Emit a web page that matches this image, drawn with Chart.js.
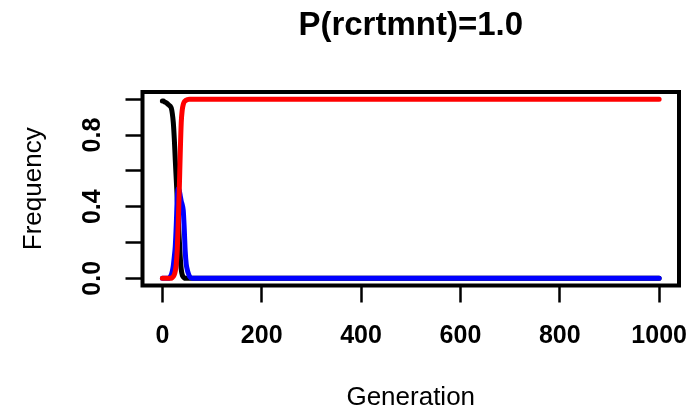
<!DOCTYPE html>
<html>
<head>
<meta charset="utf-8">
<title>P(rcrtmnt)=1.0</title>
<script src="https://cdn.jsdelivr.net/npm/chart.js@4/dist/chart.umd.min.js"></script>
<style>
  html, body { margin: 0; padding: 0; background: #ffffff; overflow: hidden; }
  canvas { display: block; }
</style>
</head>
<body>
<canvas id="chart" width="693" height="412"></canvas>
<script>
// Generations sampled for the three frequency trajectories
const generations = [0, 2, 4, 6, 8, 10, 12, 14, 16, 18, 20, 22, 24, 26, 28, 30, 32, 34, 36, 38, 40, 42, 44, 46, 48, 50, 52, 55, 60, 1000];

const freqBlack = [0.99, 0.99, 0.985, 0.983, 0.98, 0.975, 0.97, 0.965, 0.96, 0.95, 0.92, 0.87, 0.78, 0.66, 0.55, 0.44, 0.33, 0.22, 0.12, 0.05, 0.02, 0.008, 0.003, 0, 0, 0, 0, 0, 0, 0];
const freqBlue  = [0, 0, 0, 0, 0, 0, 0, 0.003, 0.01, 0.02, 0.04, 0.07, 0.12, 0.18, 0.30, 0.45, 0.50, 0.49, 0.46, 0.43, 0.41, 0.38, 0.28, 0.15, 0.08, 0.05, 0.03, 0.01, 0, 0];
const freqRed   = [0, 0, 0, 0, 0, 0, 0, 0, 0, 0, 0.005, 0.01, 0.02, 0.04, 0.08, 0.16, 0.31, 0.49, 0.70, 0.87, 0.94, 0.97, 0.985, 0.99, 0.995, 0.997, 0.999, 1.0, 1.0, 1.0];

const xTicks = [0, 200, 400, 600, 800, 1000];
const yTicks = [0, 0.2, 0.4, 0.6, 0.8, 1.0];
const yLabelled = [0, 0.4, 0.8];

const mainTitle = 'P(rcrtmnt)=1.0';

const FONT = "'Liberation Sans', Arial, Helvetica, sans-serif";

const toPoints = ys => generations.map((g, i) => ({ x: g, y: ys[i] }));

// Heavy frame round the plotting region, and the main title centred over it
const frameAndTitle = {
  id: 'frameAndTitle',
  afterDatasetsDraw(chart) {
    const { ctx, chartArea: a } = chart;
    ctx.save();
    ctx.strokeStyle = '#000000';
    ctx.lineWidth = 4;
    ctx.strokeRect(a.left, a.top, a.right - a.left, a.bottom - a.top);
    ctx.fillStyle = '#000000';
    ctx.font = 'bold 33px ' + FONT;
    ctx.textAlign = 'center';
    ctx.textBaseline = 'middle';
    ctx.fillText(mainTitle, (a.left + a.right) / 2, 26);
    ctx.restore();
  }
};

const axisGrid = {
  display: true,
  drawOnChartArea: false,
  drawTicks: true,
  tickLength: 17,
  tickWidth: 2.5,
  tickColor: '#000000'
};

new Chart(document.getElementById('chart').getContext('2d'), {
  type: 'line',
  data: {
    datasets: [
      { label: 'black', data: toPoints(freqBlack), borderColor: '#000000', order: 3 },
      { label: 'blue',  data: toPoints(freqBlue),  borderColor: '#0000ff', order: 2 },
      { label: 'red',   data: toPoints(freqRed),   borderColor: '#ff0000', order: 1 }
    ]
  },
  options: {
    responsive: false,
    animation: false,
    devicePixelRatio: 1,
    layout: { padding: { left: 0, right: 14, top: 92, bottom: 0 } },
    elements: {
      point: { radius: 0, hoverRadius: 0 },
      line: {
        borderWidth: 5,
        cubicInterpolationMode: 'monotone',
        borderCapStyle: 'round',
        borderJoinStyle: 'round',
        fill: false
      }
    },
    plugins: {
      legend: { display: false },
      tooltip: { enabled: false },
      title: { display: false }
    },
    scales: {
      x: {
        type: 'linear',
        min: -40,
        max: 1040,
        afterBuildTicks: s => { s.ticks = xTicks.map(v => ({ value: v })); },
        afterFit: s => { s.height = 126.5; s.paddingLeft = 0; s.paddingRight = 0; },
        grid: axisGrid,
        border: { display: false },
        ticks: {
          color: '#000000',
          font: { family: FONT, size: 25, weight: 'bold', lineHeight: 1.2 },
          padding: 18.5,
          autoSkip: false,
          minRotation: 0,
          maxRotation: 0,
          callback: v => String(v)
        },
        title: {
          display: true,
          text: 'Generation',
          color: '#000000',
          font: { family: FONT, size: 26, lineHeight: 1 },
          padding: { top: 0, bottom: 1.5 }
        }
      },
      y: {
        type: 'linear',
        min: -0.04,
        max: 1.04,
        afterBuildTicks: s => { s.ticks = yTicks.map(v => ({ value: v })); },
        afterFit: s => { s.width = 142.5; s.paddingTop = 0; s.paddingBottom = 0; },
        grid: axisGrid,
        border: { display: false },
        ticks: {
          color: '#000000',
          font: { family: FONT, size: 25, weight: 'bold', lineHeight: 1.2 },
          padding: 14.8,
          autoSkip: false,
          minRotation: 90,
          maxRotation: 90,
          crossAlign: 'center',
          callback: v => (yLabelled.includes(v) ? v.toFixed(1) : '')
        },
        title: {
          display: true,
          text: 'Frequency',
          color: '#000000',
          font: { family: FONT, size: 26, lineHeight: 1 },
          padding: { top: 20.6, bottom: 0 }
        }
      }
    }
  },
  plugins: [frameAndTitle]
});
</script>
</body>
</html>
